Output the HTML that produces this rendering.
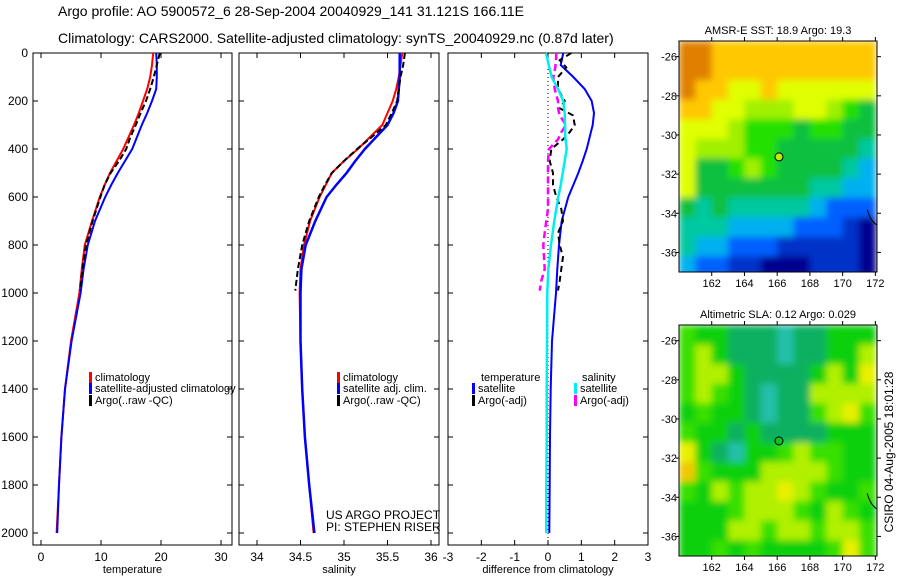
<!DOCTYPE html>
<html><head><meta charset="utf-8">
<style>
body{margin:0;background:#fff;}
svg{display:block;font-family:"Liberation Sans",sans-serif;}
</style></head>
<body>
<svg id="chart" width="900" height="580" viewBox="0 0 900 580">
<defs>
<filter id="soft" x="-5%" y="-5%" width="110%" height="110%"><feGaussianBlur stdDeviation="3.5" edgeMode="duplicate"/></filter>
</defs>
<text x="58" y="16" font-size="14">Argo profile: AO 5900572_6 28-Sep-2004 20040929_141 31.121S 166.11E</text>
<text x="58" y="43" font-size="14">Climatology: CARS2000. Satellite-adjusted climatology: synTS_20040929.nc (0.87d later)</text>
<text transform="translate(893,452) rotate(-90)" font-size="12" text-anchor="middle">CSIRO 04-Aug-2005 18:01:28</text>
<g id="g"></g>
</svg>
<script>
// ---- data ----
const depthTicks=[0,200,400,600,800,1000,1200,1400,1600,1800,2000];
const depths=[0,50,100,150,200,250,300,350,400,450,500,550,600,700,800,900,1000,1200,1400,1600,1800,2000];
const tempClim=[18.7,18.5,18.2,17.7,17.0,16.3,15.5,14.6,13.7,12.6,11.5,10.6,9.8,8.5,7.3,6.8,6.4,5.0,4.0,3.4,3.0,2.6];
const tempSat=[19.2,19.3,19.3,19.2,18.5,17.7,16.8,16.0,15.2,14.0,12.8,11.7,10.7,9.0,7.8,7.1,6.6,5.1,4.0,3.4,3.0,2.7];
const argoDepths=[0,50,100,150,200,250,300,350,400,450,500,550,600,700,800,900,990];
const tempArgo=[19.8,19.3,18.8,18.2,17.5,16.6,15.8,14.9,14.2,13.0,11.6,10.6,9.9,8.6,7.5,6.9,6.5];
const salClim=[35.67,35.65,35.63,35.6,35.56,35.5,35.44,35.3,35.16,35.0,34.86,34.79,34.72,34.61,34.54,34.5,34.49,34.5,34.52,34.55,34.6,34.65];
const salSat=[35.64,35.64,35.64,35.63,35.62,35.57,35.5,35.37,35.24,35.13,35.03,34.91,34.8,34.67,34.56,34.51,34.5,34.5,34.52,34.55,34.6,34.66];
const salArgo=[35.7,35.68,35.65,35.63,35.61,35.55,35.48,35.32,35.15,35.0,34.86,34.78,34.71,34.6,34.52,34.47,34.44];
const dTempSat=[0.46,0.38,0.76,1.1,1.31,1.38,1.34,1.25,1.16,1.04,0.91,0.76,0.61,0.41,0.33,0.28,0.24,0.12,0.08,0.06,0.05,0.04];
const dSalSat=[-0.06,0.02,0.11,0.3,0.46,0.5,0.51,0.52,0.56,0.5,0.44,0.38,0.31,0.19,0.09,0.01,-0.02,-0.03,-0.04,-0.04,-0.05,-0.05];
const dArgoDepths=[0,30,60,100,150,200,230,260,300,330,360,400,450,500,550,600,650,700,750,800,850,900,950,990];
const dTempArgo=[0.7,0.35,0.55,0.3,0.3,0.5,0.35,0.75,0.8,0.65,0.45,0.1,0.05,0.15,0.15,0.25,0.4,0.45,0.3,0.35,0.45,0.4,0.35,0.3];
const dSalArgo=[0.25,0.24,0.22,0.16,0.2,0.3,0.3,0.35,0.54,0.4,0.3,0.03,0.0,0.0,0.0,0.0,0.0,-0.05,-0.1,-0.14,-0.12,-0.1,-0.2,-0.25];
const tTicks=[0,10,20,30], sTicks=[34,34.5,35,35.5,36], dTicks=[-3,-2,-1,0,1,2,3];
const lonTicks=[162,164,166,168,170,172], latTicks=[-26,-28,-30,-32,-34,-36];
const sstGrid=[
[10,10,9,9,9,9,9,9,9,9,9,9],
[10,10,9,9,9,9,9,9,9,9,9,9],
[10,9,9,8,8,9,8,8,8,8,8,8],
[9,9,8,8,7,7,7,8,8,7,6,5],
[8,8,8,7,6,6,6,5,6,6,5,5],
[8,7,7,7,6,6,5,5,5,5,5,4],
[8,5,5,6,7,6,5,5,5,5,4,3],
[8,5,5,5,5,5,5,5,4,4,3,3],
[5,4,5,4,4,4,4,4,3,2,2,2],
[4,4,4,3,3,3,3,2,2,2,1,0],
[4,3,3,2,2,2,1,1,1,1,1,0],
[3,2,2,1,1,0,0,0,1,1,1,0]];
const slaGrid=[
[6,5,5,4,4,4,3,4,4,5,5,5],
[6,7,5,4,4,4,3,4,4,5,5,7],
[6,7,7,5,4,4,4,4,5,7,5,8],
[6,7,6,5,4,3,4,4,7,7,7,7],
[5,6,5,5,4,3,4,4,6,7,8,6],
[6,5,5,4,5,4,4,4,4,5,5,5],
[8,5,4,3,5,5,6,7,6,6,5,5],
[9,6,5,5,5,7,7,7,7,6,5,5],
[6,5,7,6,7,7,8,7,6,5,5,6],
[5,5,5,6,7,7,7,6,5,7,6,5],
[5,5,5,7,7,6,7,7,6,7,7,6],
[5,5,6,5,6,5,5,5,5,6,8,6]];
const floatLon=166.11, floatLat=-31.121;

// ---- drawing ----
const NS='http://www.w3.org/2000/svg', G=document.getElementById('g');
function mk(tag,attrs,parent){const e=document.createElementNS(NS,tag);for(const k in attrs)e.setAttribute(k,attrs[k]);(parent||G).appendChild(e);return e;}
const yTop=53, yScale=0.24;
const yD=d=>yTop+d*yScale;
const panels=[
 {x0:33,x1:232,vmin:-1.33,vmax:31.83,ticks:tTicks,title:'temperature',name:'temperature'},
 {x0:239,x1:439,vmin:33.793,vmax:36.092,ticks:sTicks,title:'salinity',name:'salinity'},
 {x0:448,x1:648,vmin:-3,vmax:3,ticks:dTicks,title:'difference from climatology',name:'difference'}];
panels.forEach(p=>{p.sx=v=>p.x0+(v-p.vmin)/(p.vmax-p.vmin)*(p.x1-p.x0);});
const yBot=545;
panels.forEach((p,i)=>{
  const r=mk('rect',{x:p.x0,y:yTop,width:p.x1-p.x0,height:yBot-yTop,fill:'none',stroke:'#000','stroke-width':1});
  
  
  p.ticks.forEach(t=>{
    const x=p.sx(t);
    mk('line',{x1:x,x2:x,y1:yBot,y2:yBot-5,stroke:'#000'});
    mk('line',{x1:x,x2:x,y1:yTop,y2:yTop+5,stroke:'#000'});
    const tx=mk('text',{x:x,y:yBot+16,'font-size':12,'text-anchor':'middle'});
    tx.textContent=String(t);
    
    
  });
  depthTicks.forEach(d=>{
    const y=yD(d);
    mk('line',{x1:p.x0,x2:p.x0+5,y1:y,y2:y,stroke:'#000'});
    mk('line',{x1:p.x1,x2:p.x1-5,y1:y,y2:y,stroke:'#000'});
    if(i===0){
      const tx=mk('text',{x:28,y:y+4,'font-size':12,'text-anchor':'end'});
      tx.textContent=String(d);
      
      
    }
  });
  const at=mk('text',{x:(p.x0+p.x1)/2,y:yBot+28,'font-size':11,'text-anchor':'middle'});
  at.textContent=p.title;
  
  
});
function line(p,vals,ds,color,w,dash,name){
  const pts=vals.map((v,i)=>p.sx(v).toFixed(1)+','+yD(ds[i]).toFixed(1)).join(' ');
  const a={points:pts,fill:'none',stroke:color,'stroke-width':w};
  if(dash)a['stroke-dasharray']=dash;
  const e=mk('polyline',a);
  
  
}
const P=panels;
line(P[0],tempClim,depths,'#f00',2,null,'temp-climatology-line');
line(P[0],tempSat,depths,'#00f',2,null,'temp-satellite-line');
line(P[0],tempArgo,argoDepths,'#000',2,'6,3','temp-argo-line');
line(P[1],salClim,depths,'#f00',2,null,'sal-climatology-line');
line(P[1],salSat,depths,'#00f',2.5,null,'sal-satellite-line');
line(P[1],salArgo,argoDepths,'#000',2,'6,3','sal-argo-line');
const zl=mk('line',{x1:P[2].sx(0),x2:P[2].sx(0),y1:yTop,y2:yBot,stroke:'#000','stroke-dasharray':'1,3'});


line(P[2],dTempSat,depths,'#00f',2,null,'diff-temp-satellite-line');
line(P[2],dTempArgo,dArgoDepths,'#000',2,'6,4','diff-temp-argo-line');
line(P[2],dSalArgo,dArgoDepths,'#f0f',2.5,'7,4','diff-sal-argo-line');
line(P[2],dSalSat,depths,'#0ee',2.5,null,'diff-sal-satellite-line');

function legend(x,y,color,label,name){
  const b=mk('rect',{x:x,y:y-9,width:3,height:11,fill:color});
  
  
  if(label){const t=mk('text',{x:x+6,y:y,'font-size':11});t.textContent=label;
  
  }
}
function txt(x,y,s,name,size){const t=mk('text',{x:x,y:y,'font-size':size||11});t.textContent=s;
  
  }
legend(89,381,'#f00','climatology','legend-climatology');
legend(89,392,'#00f','satellite-adjusted climatology','legend-satellite');
legend(89,404,'#000','Argo(..raw -QC)','legend-argo');
legend(337,381,'#f00','climatology','legend2-climatology');
legend(337,392,'#00f','satellite adj. clim.','legend2-satellite');
legend(337,404,'#000','Argo(..raw -QC)','legend2-argo');
txt(326,519,'US ARGO PROJECT','project-label',12);
txt(326,531,'PI: STEPHEN RISER','pi-label',12);
txt(481,381,'temperature','legend3-temperature-heading');
legend(472,392,'#00f','satellite','legend3-temp-satellite');
legend(472,404,'#000','Argo(-adj)','legend3-temp-argo');
txt(582,381,'salinity','legend3-salinity-heading');
legend(574,392,'#0ee','satellite','legend3-sal-satellite');
legend(574,404,'#f0f','Argo(-adj)','legend3-sal-argo');

// ---- maps ----
const sstColors=['#00008f','#0030c8','#0060ff','#00b0f0','#00c8a0','#10c040','#20e000','#a0f000','#e0ff00','#ffc800','#e08000'];
const slaColors=['#0000a0','#0040ff','#00a0ff','#20c0a8','#10b060','#10d010','#38e000','#b0f000','#e8f000','#f0c800'];
function map(top,bottom,grid,colors,title,name,dotFill){
  const x0=679,x1=877,lon0=160.0,lon1=172.1,lat0=-25.2,lat1=-37.0;
  const sx=l=>x0+(l-lon0)/(lon1-lon0)*(x1-x0);
  const sy=l=>top+(l-lat0)/(lat1-lat0)*(bottom-top);
  const cid='clip-'+name;
  const cp=mk('clipPath',{id:cid});mk('rect',{x:x0,y:top,width:x1-x0,height:bottom-top},cp);
  const outer=mk('g',{'clip-path':'url(#'+cid+')'});
  const g=mk('g',{filter:'url(#soft)'},outer);
  
  
  grid.forEach((row,r)=>row.forEach((v,c)=>{
    const xa=sx(lon0+c), xb=sx(lon0+c+1.05), ya=sy(lat0-r), yb=sy(lat0-r-1.05);
    mk('rect',{x:xa,y:ya,width:xb-xa,height:yb-ya,fill:colors[v]},g);
  }));
  const fr=mk('rect',{x:x0,y:top,width:x1-x0,height:bottom-top,fill:'none',stroke:'#000'});
  
  
  lonTicks.forEach(l=>{const x=sx(l);
    mk('line',{x1:x,x2:x,y1:top,y2:top-4,stroke:'#000'});
    mk('line',{x1:x,x2:x,y1:bottom,y2:bottom+4,stroke:'#000'});
    const t=mk('text',{x:x,y:bottom+15,'font-size':11,'text-anchor':'middle'});t.textContent=String(l);
    
    });
  latTicks.forEach(l=>{const y=sy(l);
    mk('line',{x1:x0,x2:x0-3,y1:y,y2:y,stroke:'#000'});
    mk('line',{x1:x1,x2:x1+4,y1:y,y2:y,stroke:'#000'});
    const t=mk('text',{x:x0-2,y:y+4,'font-size':11,'text-anchor':'end'});t.textContent=String(l);
    
    });
  const tt=mk('text',{x:(x0+x1)/2,y:top-7,'font-size':11,'text-anchor':'middle'});tt.textContent=title;
  
  
  const c=mk('circle',{cx:sx(floatLon),cy:sy(floatLat),r:4,fill:dotFill,stroke:'#000','stroke-width':1});
  
  
  mk('path',{d:`M${sx(171.5)} ${sy(-33.8)} Q${sx(171.7)} ${sy(-34.4)} ${x1} ${sy(-34.6)}`,fill:'none',stroke:'#000'});
}
map(41,272,sstGrid,sstColors,'AMSR-E SST: 18.9 Argo: 19.3','sst-map','#b8f000');
map(325,556,slaGrid,slaColors,'Altimetric SLA: 0.12 Argo: 0.029','sla-map','#10c020');
</script>
</body></html>
